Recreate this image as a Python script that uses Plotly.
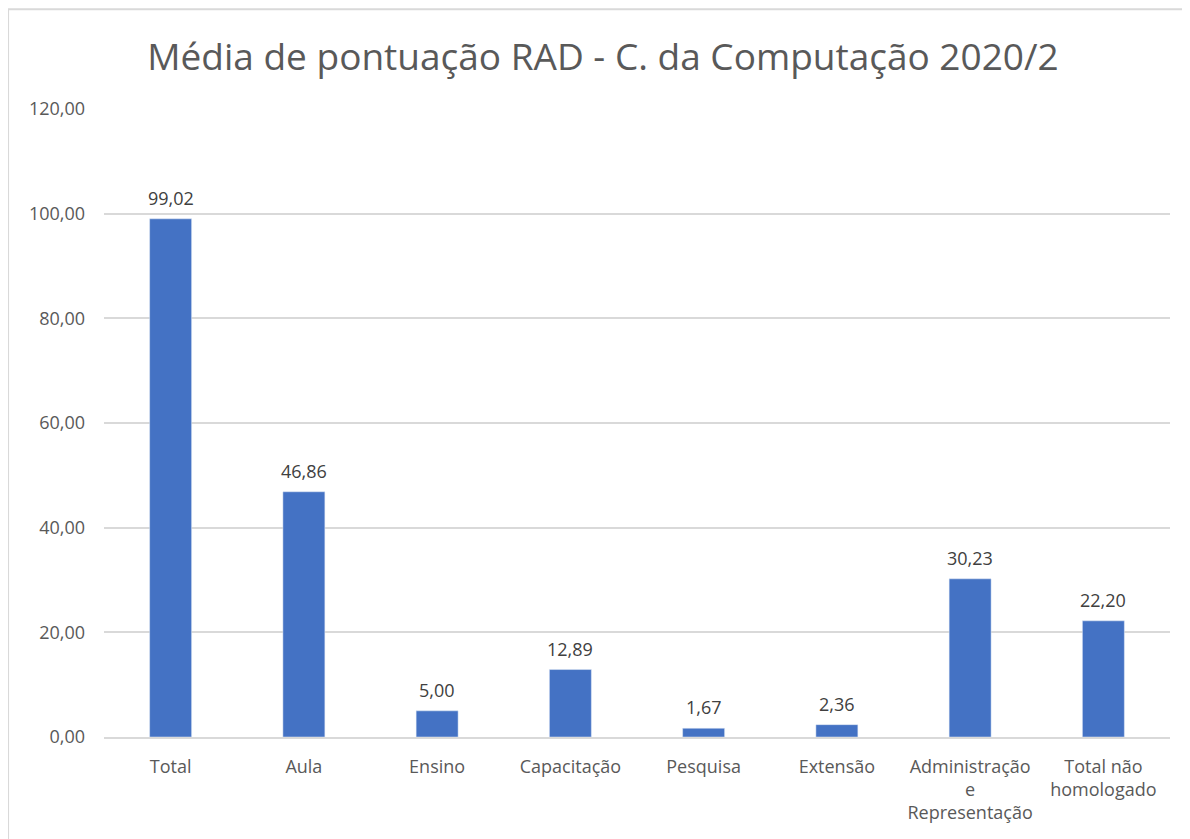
import plotly.graph_objects as go

categories = [
    "Total",
    "Aula",
    "Ensino",
    "Capacitação",
    "Pesquisa",
    "Extensão",
    "Administração<br>e<br>Representação",
    "Total não<br>homologado",
]
values = [99.02, 46.86, 5.00, 12.89, 1.67, 2.36, 30.23, 22.20]
y_ticks = [0, 20, 40, 60, 80, 100, 120]


def fmt(v):
    # formato brasileiro: vírgula decimal
    return f"{v:.2f}".replace(".", ",")


fig = go.Figure()

fig.add_trace(
    go.Bar(
        x=categories,
        y=values,
        marker_color="#4472C4",
        hoverinfo="skip",
    )
)

# rótulos de dados acima das barras
for cat, v in zip(categories, values):
    fig.add_annotation(
        x=cat,
        y=v,
        text=fmt(v),
        showarrow=False,
        yanchor="bottom",
        yshift=7,
        font=dict(size=18, color="#404040"),
    )

# moldura cinza clara em volta do gráfico (como no Excel)
fig.add_shape(
    type="rect",
    xref="paper",
    yref="paper",
    x0=-0.090,
    x1=1.05,
    y0=-0.3,
    y1=1.159,
    line=dict(color="#D9D9D9", width=2),
    fillcolor="rgba(0,0,0,0)",
    layer="below",
)

fig.update_layout(
    width=1190,
    height=839,
    margin=dict(l=96, r=28, t=101, b=110),
    paper_bgcolor="white",
    plot_bgcolor="white",
    font=dict(family="Open Sans, Noto Sans, sans-serif", color="#595959"),
    title=dict(
        text="Média de pontuação RAD - C. da Computação 2020/2",
        x=0.5,
        xanchor="center",
        y=0.942,
        yanchor="middle",
        font=dict(size=37, color="#595959"),
    ),
    bargap=0.685,
    showlegend=False,
)

fig.update_xaxes(
    showline=True,
    linecolor="#D9D9D9",
    linewidth=2,
    ticks="",
    ticklabelstandoff=12,
    tickfont=dict(size=18, color="#595959"),
    tickangle=0,
)

fig.update_yaxes(
    range=[0, 120],
    tickvals=y_ticks,
    ticktext=[fmt(t) for t in y_ticks],
    showgrid=True,
    gridcolor="#D9D9D9",
    gridwidth=1.5,
    zeroline=False,
    ticks="",
    ticklabelstandoff=18,
    tickfont=dict(size=18, color="#595959"),
)

fig.write_html("out.html")
